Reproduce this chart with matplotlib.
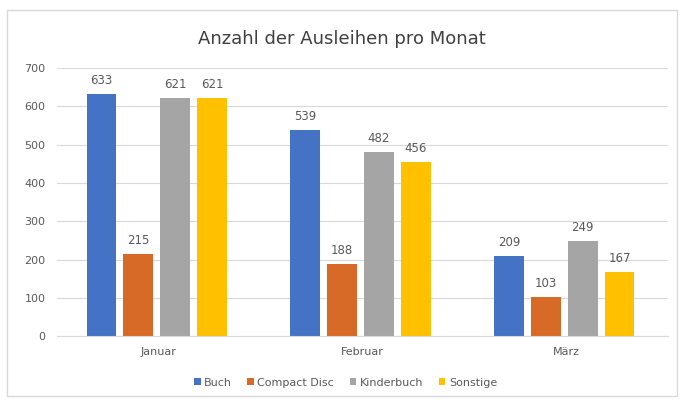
import numpy as np
import matplotlib.pyplot as plt
from matplotlib.patches import Rectangle

months = ["Januar", "Februar", "März"]
series = ["Buch", "Compact Disc", "Kinderbuch", "Sonstige"]
buch = [633, 539, 209]
compact_disc = [215, 188, 103]
kinderbuch = [621, 482, 249]
sonstige = [621, 456, 167]
colors = ["#4472C4", "#D86A28", "#A5A5A5", "#FFC000"]

values = [buch, compact_disc, kinderbuch, sonstige]
text_color = "#595959"

fig = plt.figure(figsize=(6.84, 4.03), dpi=100)
fig.patches.append(Rectangle((0.010, 0.017), 0.980, 0.958, transform=fig.transFigure,
                             fill=False, edgecolor="#D9D9D9", linewidth=1))
ax = fig.add_axes([0.083, 0.166, 0.894, 0.665])

x = np.arange(len(months))
width = 0.145
step = 0.181
for i, (name, vals) in enumerate(zip(series, values)):
    offs = (i - 1.5) * step - 0.01
    bars = ax.bar(x + offs, vals, width, color=colors[i], label=name, zorder=2)
    for b, v in zip(bars, vals):
        ax.text(b.get_x() + b.get_width() / 2, v + 18, str(v), ha="center", va="bottom",
                fontsize=8.5, color=text_color)

ax.set_xlim(-0.5, 2.5)
ax.set_ylim(0, 700)
ax.set_yticks(range(0, 701, 100))
ax.set_xticks(x)
ax.set_xticklabels(months)
ax.yaxis.grid(True, color="#D9D9D9", linewidth=0.8, zorder=0)
for s in ["top", "right", "left"]:
    ax.spines[s].set_visible(False)
ax.spines["bottom"].set_color("#D9D9D9")
ax.tick_params(length=0, labelsize=8, colors=text_color, pad=8)

fig.suptitle("Anzahl der Ausleihen pro Monat", y=0.925, fontsize=13, color="#404040")
fig.legend(loc="center", bbox_to_anchor=(0.505, 0.05), ncol=4, frameon=False,
           fontsize=8, handlelength=0.6, handleheight=0.6, handletextpad=0.3,
           columnspacing=1.4, labelcolor=text_color)

fig.savefig("out.png", dpi=100)
